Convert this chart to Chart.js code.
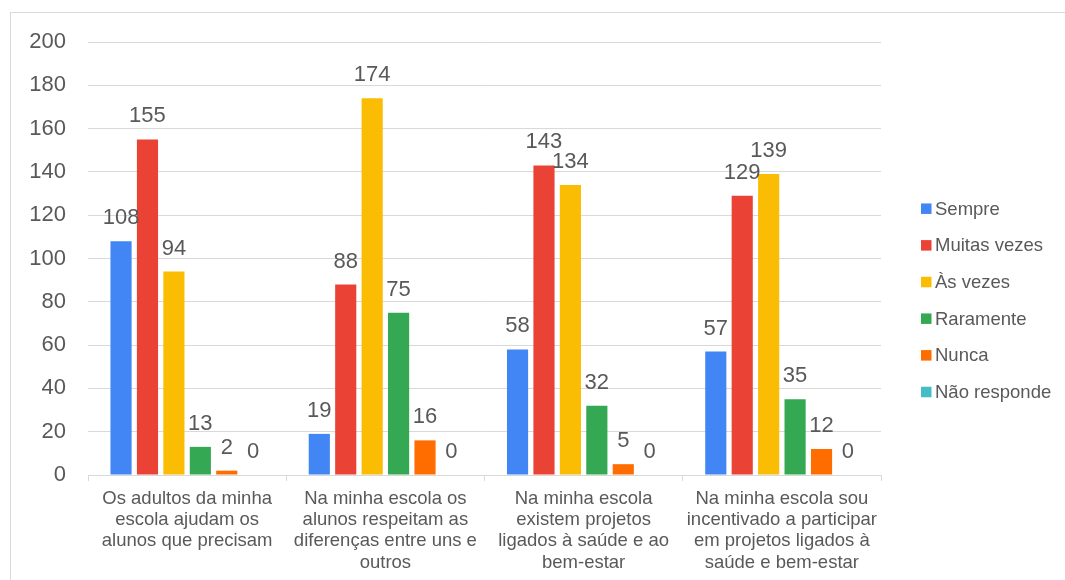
<!DOCTYPE html>
<html>
<head>
<meta charset="utf-8">
<script src="https://cdn.jsdelivr.net/npm/chart.js@4.4.0/dist/chart.umd.min.js"></script>
<style>
  html, body { margin: 0; padding: 0; background: #ffffff; }
  body { width: 1065px; height: 580px; position: relative; overflow: hidden; }
  #frame { position: absolute; left: 10px; top: 12px; width: 1070px; height: 600px; border: 1px solid #d9d9d9; box-sizing: border-box; }
  #wrap { position: absolute; left: 0; top: 0; width: 1065px; height: 580px; }
</style>
</head>
<body>
<div id="frame"></div>
<div id="wrap"><canvas id="c" width="1065" height="580"></canvas></div>
<script>
const categories = [
  ["Os adultos da minha", "escola ajudam os", "alunos que precisam"],
  ["Na minha escola os", "alunos respeitam as", "diferenças entre uns e", "outros"],
  ["Na minha escola", "existem projetos", "ligados à saúde e ao", "bem-estar"],
  ["Na minha escola sou", "incentivado a participar", "em projetos ligados à", "saúde e bem-estar"]
];
const seriesNames = ["Sempre", "Muitas vezes", "Às vezes", "Raramente", "Nunca", "Não responde"];
const sempre = [108, 19, 58, 57];
const muitasVezes = [155, 88, 143, 129];
const asVezes = [94, 174, 134, 139];
const raramente = [13, 75, 32, 35];
const nunca = [2, 16, 5, 12];
const naoResponde = [0, 0, 0, 0];
const seriesValues = [sempre, muitasVezes, asVezes, raramente, nunca, naoResponde];
const seriesColors = ["#4285F4", "#EA4335", "#FBBC04", "#34A853", "#FF6D01", "#46BDC6"];
const yTicks = [0, 20, 40, 60, 80, 100, 120, 140, 160, 180, 200];

const TEXT = "#595959";
const GRID = "#d9d9d9";
const FONT = "'Liberation Sans', Arial, sans-serif";

const valueLabels = {
  id: 'valueLabels',
  afterDatasetsDraw(chart) {
    const ctx = chart.ctx;
    ctx.save();
    ctx.font = "22px " + FONT;
    ctx.fillStyle = TEXT;
    ctx.textAlign = 'center';
    ctx.textBaseline = 'bottom';
    chart.data.datasets.forEach((ds, i) => {
      const meta = chart.getDatasetMeta(i);
      meta.data.forEach((bar, j) => {
        ctx.fillText(String(ds.data[j]), bar.x, bar.y - 12);
      });
    });
    ctx.restore();
  }
};

const sideLegend = {
  id: 'sideLegend',
  afterDraw(chart) {
    const ctx = chart.ctx;
    ctx.save();
    ctx.font = "18.5px " + FONT;
    ctx.textBaseline = 'middle';
    ctx.textAlign = 'left';
    const x0 = 921, y0 = 208.7, step = 36.66, bs = 10.5;
    chart.data.datasets.forEach((ds, i) => {
      const y = y0 + i * step;
      ctx.fillStyle = ds.backgroundColor;
      ctx.fillRect(x0, y - bs / 2, bs, bs);
      ctx.fillStyle = TEXT;
      ctx.fillText(ds.label, x0 + 14, y + 1);
    });
    ctx.restore();
  }
};

new Chart(document.getElementById('c'), {
  type: 'bar',
  data: {
    labels: categories,
    datasets: seriesNames.map((name, i) => ({
      label: name,
      data: seriesValues[i],
      backgroundColor: seriesColors[i],
      borderWidth: 0,
      categoryPercentage: 0.8,
      barPercentage: 0.8
    }))
  },
  options: {
    responsive: false,
    animation: false,
    devicePixelRatio: 1,
    layout: { padding: { top: 42, right: 184, left: 0, bottom: 0 } },
    plugins: {
      legend: { display: false },
      tooltip: { enabled: false }
    },
    scales: {
      x: {
        grid: {
          display: true,
          drawOnChartArea: false,
          drawTicks: true,
          tickLength: 6,
          color: GRID,
          offset: true
        },
        border: { display: true, color: GRID, width: 1 },
        ticks: {
          color: TEXT,
          font: { family: FONT, size: 18.5, lineHeight: 1.15 },
          padding: 7,
          maxRotation: 0,
          autoSkip: false
        },
        afterFit(scale) { scale.height = 105; }
      },
      y: {
        min: 0,
        max: 200,
        afterBuildTicks(scale) { scale.ticks = yTicks.map(v => ({ value: v })); },
        grid: { color: GRID, drawTicks: false, lineWidth: 1 },
        border: { display: false },
        ticks: {
          color: TEXT,
          font: { family: FONT, size: 22 },
          padding: 22
        },
        afterFit(scale) { scale.width = 88; }
      }
    }
  },
  plugins: [valueLabels, sideLegend]
});
</script>
</body>
</html>
